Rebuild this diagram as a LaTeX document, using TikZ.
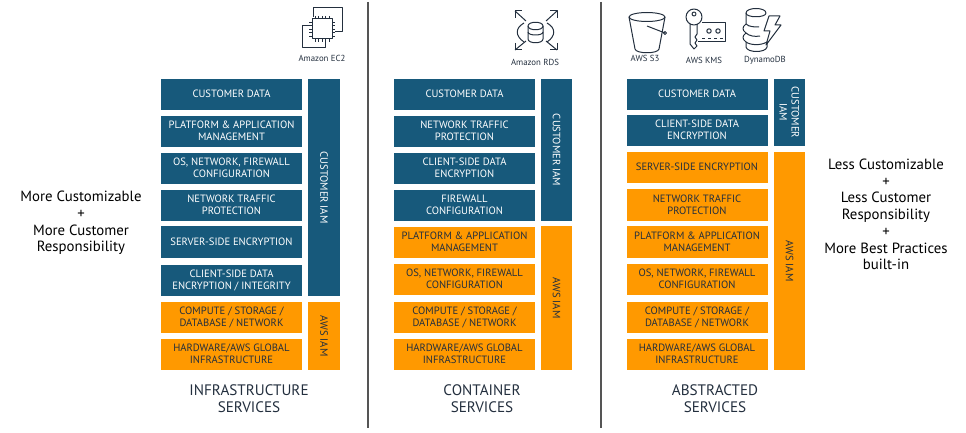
\documentclass[tikz,border=0pt]{standalone}
\usepackage{fontspec}
\setmainfont{PT Sans}
\definecolor{custblue}{HTML}{17597B}
\definecolor{awsorange}{HTML}{FF9900}
\definecolor{inkdark}{HTML}{232F3E}
\definecolor{rulegrey}{HTML}{555555}
\begin{document}
\begin{tikzpicture}[
  x=1pt, y=-1pt,
  box/.style={align=center, minimum width=141pt, minimum height=31pt, inner sep=0pt, text depth=1.5pt,
    font=\fontsize{10.6}{12}\selectfont},
  blue/.style={fill=custblue, text=white},
  orange/.style={fill=awsorange, text=inkdark},
  iam/.style={rotate=-90, align=center, minimum height=32pt, inner sep=0pt,
    font=\fontsize{10.6}{12}\selectfont},
  side/.style={align=center, inner sep=0pt, text=black, font=\fontsize{14.8}{16.7}\selectfont},
  title/.style={align=center, inner sep=0pt, text=inkdark, font=\fontsize{15.2}{17}\selectfont},
  caption/.style={inner sep=0pt, text=inkdark, font=\fontsize{8.8}{9}\selectfont},
  icon/.style={draw=inkdark, line width=1pt, line join=round}
]
\useasboundingbox (0,0) rectangle (966,433);
% side texts
\node[side] (more) at (81,223) {More Customizable\\+\\More Customer\\Responsibility};
\node[side] (less) at (886,214.5) {Less Customizable\\+\\Less Customer\\Responsibility\\+\\More Best Practices\\built-in};
% infrastructure column
\node[box,blue] (a1) at (231.5,94.5) {CUSTOMER DATA};
\node[box,blue] (a2) at (231.5,131.5) {PLATFORM \& APPLICATION\\MANAGEMENT};
\node[box,blue] (a3) at (231.5,168.5) {OS, NETWORK, FIREWALL\\CONFIGURATION};
\node[box,blue] (a4) at (231.5,205.5) {NETWORK TRAFFIC\\PROTECTION};
\node[box,blue,minimum height=32pt] (a5) at (231.5,242) {SERVER-SIDE ENCRYPTION};
\node[box,blue] (a6) at (231.5,280.5) {CLIENT-SIDE DATA\\ENCRYPTION / INTEGRITY};
\node[box,orange] (a7) at (231.5,317.5) {COMPUTE / STORAGE /\\DATABASE / NETWORK};
\node[box,orange] (a8) at (231.5,354.5) {HARDWARE/AWS GLOBAL\\INFRASTRUCTURE};
\node[iam,blue,minimum width=217pt] (aiam1) at (324,187.5) {CUSTOMER IAM};
\node[iam,orange,minimum width=68pt] (aiam2) at (324,336) {AWS IAM};
\node[title] (atitle) at (249,398.5) {INFRASTRUCTURE\\SERVICES};
% container column
\node[box,blue] (b1) at (464.5,94.5) {CUSTOMER DATA};
\node[box,blue] (b2) at (464.5,131.5) {NETWORK TRAFFIC\\PROTECTION};
\node[box,blue] (b3) at (464.5,168.5) {CLIENT-SIDE DATA\\ENCRYPTION};
\node[box,blue] (b4) at (464.5,205.5) {FIREWALL\\CONFIGURATION};
\node[box,orange] (b5) at (464.5,242.5) {PLATFORM \& APPLICATION\\MANAGEMENT};
\node[box,orange] (b6) at (464.5,279.5) {OS, NETWORK, FIREWALL\\CONFIGURATION};
\node[box,orange] (b7) at (464.5,317.5) {COMPUTE / STORAGE /\\DATABASE / NETWORK};
\node[box,orange] (b8) at (464.5,354.5) {HARDWARE/AWS GLOBAL\\INFRASTRUCTURE};
\node[iam,blue,minimum width=142pt,minimum height=31pt] (biam1) at (556.5,150) {CUSTOMER IAM};
\node[iam,orange,minimum width=144pt,minimum height=31pt] (biam2) at (556.5,298) {AWS IAM};
\node[title] (btitle) at (482,398.5) {CONTAINER\\SERVICES};
% abstracted column
\node[box,blue] (c1) at (697,94.5) {CUSTOMER DATA};
\node[box,blue] (c2) at (697,130.5) {CLIENT-SIDE DATA\\ENCRYPTION};
\node[box,orange] (c3) at (697,167.5) {SERVER-SIDE ENCRYPTION};
\node[box,orange,minimum height=32pt] (c4) at (697,205) {NETWORK TRAFFIC\\PROTECTION};
\node[box,orange,minimum height=32pt] (c5) at (697,242) {PLATFORM \& APPLICATION\\MANAGEMENT};
\node[box,orange] (c6) at (697,279.5) {OS, NETWORK, FIREWALL\\CONFIGURATION};
\node[box,orange] (c7) at (697,317.5) {COMPUTE / STORAGE /\\DATABASE / NETWORK};
\node[box,orange] (c8) at (697,354.5) {HARDWARE/AWS GLOBAL\\INFRASTRUCTURE};
\node[iam,blue,minimum width=67pt,minimum height=31pt] (ciam1) at (789.5,112.5) {CUSTOMER\\IAM};
\node[iam,orange,minimum width=218pt,minimum height=31pt] (ciam2) at (789.5,261) {AWS IAM};
\node[title] (ctitle) at (715,398.5) {ABSTRACTED\\SERVICES};
% dividers
\draw[rulegrey, line width=2pt] (368,2) -- (368,428);
\draw[rulegrey, line width=2pt] (601,2) -- (601,428);
% EC2 icon
\draw[icon] (313,17) -- (313,8) -- (342,8) -- (342,32) -- (335,32);
\draw[icon] (310,26) -- (302,26) -- (302,48) -- (325,48) -- (325,42);
\draw[icon] (312,19) rectangle (332,39);
\foreach \p in {0,1,2,3,4} {
  \draw[icon, line width=.8pt] (315+3.5*\p,16) -- (315+3.5*\p,19);
  \draw[icon, line width=.8pt] (315+3.5*\p,39) -- (315+3.5*\p,42);
  \draw[icon, line width=.8pt] (309,22+3.5*\p) -- (312,22+3.5*\p);
  \draw[icon, line width=.8pt] (332,22+3.5*\p) -- (335,22+3.5*\p);
}
\node[caption] (ec2) at (322,58) {Amazon EC2};
% RDS icon
\draw[icon] (528,26) -- (528,39) .. controls (528,44) and (543,44) .. (543,39) -- (543,26);
\draw[icon] (528,26) .. controls (528,21) and (543,21) .. (543,26) .. controls (543,31) and (528,31) .. (528,26);
\draw[icon] (528,32) .. controls (528,36) and (543,36) .. (543,32);
\draw[icon] (524,23) .. controls (515,28) and (515,36) .. (524,42);
\draw[icon] (547,23) .. controls (556,28) and (556,36) .. (547,42);
\foreach \sx/\sy/\ex/\ey in {515/11/526/21, 557/11/546/21, 515/50/526/41, 557/50/546/41} {
  \draw[icon] (\sx,\sy) -- (\ex,\ey);
}
\draw[icon] (515,18) -- (515,11) -- (522,11);
\draw[icon] (557,18) -- (557,11) -- (550,11);
\draw[icon] (515,43) -- (515,50) -- (522,50);
\draw[icon] (557,43) -- (557,50) -- (550,50);
\node[caption] (rds) at (535,62) {Amazon RDS};
% S3 icon
\draw[icon] (647,17) ellipse (18 and 4.5);
\draw[icon] (629,17) -- (635,49) .. controls (636,54) and (658,54) .. (659,49) -- (665,17);
\draw[icon] (647,26) -- (665,33);
\draw[icon] (665,33) circle (1.5);
\node[caption] (s3) at (645,58) {AWS S3};
% KMS icon
\draw[icon] (694,17) circle (8);
\draw[icon] (694,14) circle (2);
\draw[icon] (690,24) -- (690,44) -- (694,49) -- (697,46) -- (695,43) -- (697,40) -- (695,37) -- (697,34) -- (697,24);
\draw[icon] (702,23) -- (725,23) -- (725,42) -- (698,42);
\draw[icon] (709,31) circle (2.2);
\draw[icon] (718,31) circle (2.2);
\draw[icon, line width=.9pt, dashed] (702,38) -- (723,38);
\node[caption] (kms) at (704,60) {AWS KMS};
% DynamoDB icon
\draw[icon] (746,13) .. controls (746,7) and (766,7) .. (766,13) .. controls (766,18) and (746,18) .. (746,13);
\draw[icon] (746,13) -- (746,24) .. controls (742,27) and (742,30) .. (746,33) .. controls (742,36) and (742,39) .. (746,42)
  -- (746,47) .. controls (747,53) and (766,53) .. (767,47) -- (767,42);
\draw[icon] (746,24) .. controls (749,27) and (755,27) .. (759,27);
\draw[icon] (746,33) .. controls (749,36) and (755,37) .. (760,36);
\draw[icon] (746,42) .. controls (750,45) and (760,46) .. (767,42);
\draw[icon] (769,16) -- (780,16) -- (775,25) -- (781,25) -- (766,45) -- (770,31) -- (764,31) -- cycle;
\node[caption] (dyn) at (765,60) {DynamoDB};
\end{tikzpicture}
\end{document}
